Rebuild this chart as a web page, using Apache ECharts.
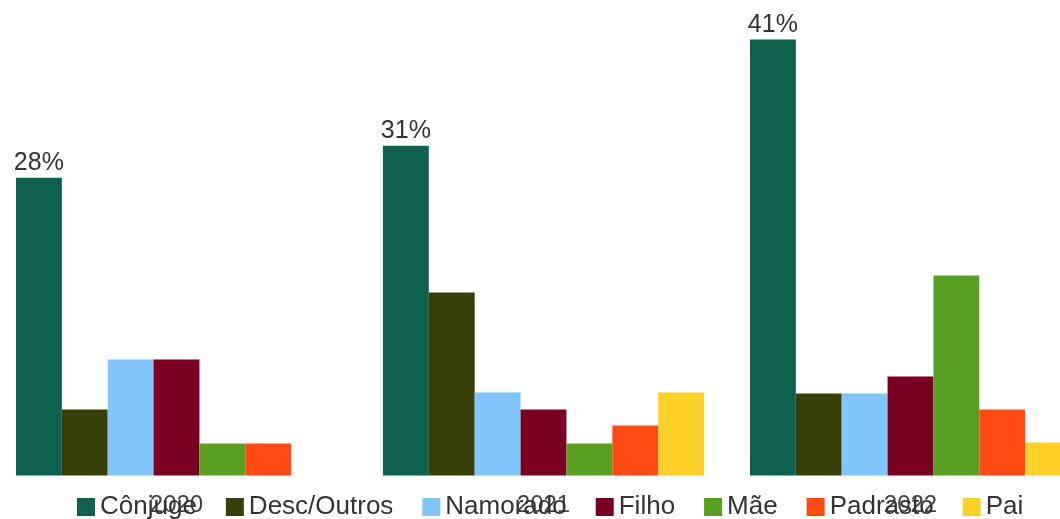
<!DOCTYPE html>
<html>
<head>
<meta charset="utf-8">
<script src="https://cdn.jsdelivr.net/npm/echarts@6/dist/echarts.min.js"></script>
<style>
  html, body { margin: 0; padding: 0; background: #ffffff; }
  #chart { width: 1060px; height: 519px; }
</style>
</head>
<body>
<div id="chart"></div>
<script>
// Anos
const years = ['2020', '2021', '2022'];

// Percentual por vínculo com o agressor
const conjuge    = [28, 31, 41];
const descOutros = [6.2, 17.2, 7.7];
const namorado   = [10.9, 7.8, 7.7];
const filho      = [10.9, 6.2, 9.3];
const mae        = [3.0, 3.0, 18.8];
const padrasto   = [3.0, 4.7, 6.2];
const pai        = [null, 7.8, 3.1];

const seriesNames  = ['Cônjuge', 'Desc/Outros', 'Namorado', 'Filho', 'Mãe', 'Padrasto', 'Pai'];
const seriesValues = [conjuge, descOutros, namorado, filho, mae, padrasto, pai];
const seriesColors = ['#0E604F', '#363F06', '#80C6FA', '#7A0022', '#589F22', '#FF4B12', '#FDD02A'];

const FONT = '"Liberation Sans", Arial, sans-serif';

const chart = echarts.init(document.getElementById('chart'), null, { renderer: 'canvas' });

const series = seriesNames.map((name, i) => ({
  name: name,
  type: 'bar',
  data: seriesValues[i],
  barGap: '0%',
  barCategoryGap: '12.5%',
  itemStyle: { color: seriesColors[i] },
  label: i === 0 ? {
    show: true,
    position: 'top',
    distance: 2,
    formatter: p => p.value + '%',
    fontFamily: FONT,
    fontSize: 25,
    color: '#333'
  } : { show: false },
  emphasis: { disabled: true },
  animation: false
}));

chart.setOption({
  animation: false,
  backgroundColor: '#ffffff',
  // the plot runs a little past both edges of the canvas
  grid: {
    left: -7, right: -34, top: -3, bottom: 43.5,
    containLabel: false,
    outerBoundsMode: 'none'
  },
  legend: {
    data: seriesNames,
    left: 77,
    top: 494,
    padding: 0,
    itemWidth: 18,
    itemHeight: 18,
    itemGap: 29,
    icon: 'rect',
    textStyle: { fontFamily: FONT, fontSize: 26, color: '#333' }
  },
  xAxis: {
    type: 'category',
    data: years,
    axisLine: { show: false },
    axisTick: { show: false },
    axisLabel: { fontFamily: FONT, fontSize: 24, color: '#444', margin: 18 }
  },
  yAxis: {
    type: 'value',
    min: 0,
    max: 45,
    show: false,
    splitLine: { show: false }
  },
  series: series
});
</script>
</body>
</html>
